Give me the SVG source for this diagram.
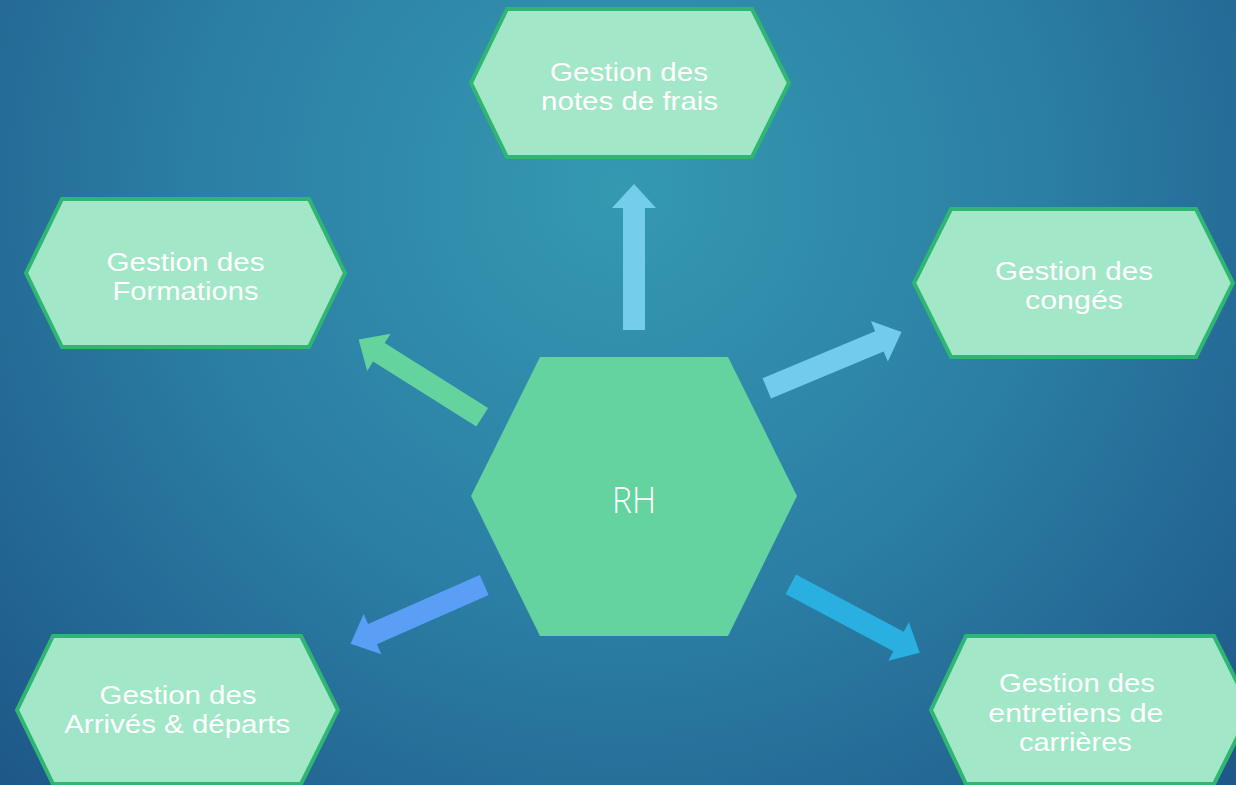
<svg xmlns="http://www.w3.org/2000/svg" width="1236" height="785" viewBox="0 0 1236 785">
<defs>
<radialGradient id="bg" gradientUnits="userSpaceOnUse" cx="620" cy="190" r="950">
<stop offset="0" stop-color="#3599b2"/>
<stop offset="0.45" stop-color="#2b7ea4"/>
<stop offset="1" stop-color="#1b4f82"/>
</radialGradient>
<path id="arr" d="M0,-11 L122,-11 L122,-22 L146,0 L122,22 L122,11 L0,11 Z"/>
<style>
.hex{fill:#a2e7c7;stroke:#2fb673;stroke-width:4;stroke-linejoin:miter}
.lbl{font-family:"Liberation Sans","Open Sans",sans-serif;font-size:25px;fill:#ffffff;text-anchor:middle}
.main{fill:#64d3a0}
.rh{font-family:"Open Sans","Liberation Sans",sans-serif;font-weight:300;font-size:36px;fill:#ffffff;text-anchor:middle}
</style>
</defs>
<rect width="1236" height="785" fill="url(#bg)"/>

<g id="connectors">
<use href="#arr" transform="translate(634,330) rotate(-90)" fill="#74cdea"/>
<use href="#arr" transform="translate(766.8,388.3) rotate(-22.65)" fill="#72cbeb"/>
<use href="#arr" transform="translate(790.8,584.2) rotate(27.98)" fill="#2ab0e0"/>
<use href="#arr" transform="translate(484.2,585) rotate(156.25)" fill="#5b9ef5"/>
<use href="#arr" transform="translate(482.2,417.2) rotate(-147.84)" fill="#64d39e"/>
</g>

<g id="rh">
<polygon class="main" points="540,357 728,357 797,496 728,636 540,636 471,496"/>
<text class="rh" x="634" y="512.7" textLength="44" lengthAdjust="spacingAndGlyphs">RH</text>
</g>

<g id="notes-frais">
<polygon class="hex" points="507,9 752,9 789,83 752,157 507,157 471,83"/>
<text class="lbl" x="629" y="81" textLength="158" lengthAdjust="spacingAndGlyphs">Gestion des</text>
<text class="lbl" x="629.6" y="110" textLength="177" lengthAdjust="spacingAndGlyphs">notes de frais</text>
</g>

<g id="formations">
<polygon class="hex" points="62,199 309,199 345,273 309,347 62,347 26,273"/>
<text class="lbl" x="185.5" y="271" textLength="158" lengthAdjust="spacingAndGlyphs">Gestion des</text>
<text class="lbl" x="185.5" y="300" textLength="146" lengthAdjust="spacingAndGlyphs">Formations</text>
</g>

<g id="conges">
<polygon class="hex" points="951,209 1196,209 1233,283 1196,357 951,357 914,283"/>
<text class="lbl" x="1074" y="280" textLength="158" lengthAdjust="spacingAndGlyphs">Gestion des</text>
<text class="lbl" x="1074" y="309" textLength="98" lengthAdjust="spacingAndGlyphs">congés</text>
</g>

<g id="arrives-departs">
<polygon class="hex" points="53,636 301,636 338,710 301,784 53,784 17,710"/>
<text class="lbl" x="178" y="704" textLength="157" lengthAdjust="spacingAndGlyphs">Gestion des</text>
<text class="lbl" x="177.2" y="733.3" textLength="226" lengthAdjust="spacingAndGlyphs">Arrivés &amp; départs</text>
</g>

<g id="entretiens">
<polygon class="hex" points="966,636 1214,636 1251,710 1214,784 966,784 931,710"/>
<text class="lbl" x="1077" y="691.7" textLength="156" lengthAdjust="spacingAndGlyphs">Gestion des</text>
<text class="lbl" x="1075.8" y="721.7" textLength="175" lengthAdjust="spacingAndGlyphs">entretiens de</text>
<text class="lbl" x="1075.4" y="750.7" textLength="113" lengthAdjust="spacingAndGlyphs">carrières</text>
</g>
</svg>
